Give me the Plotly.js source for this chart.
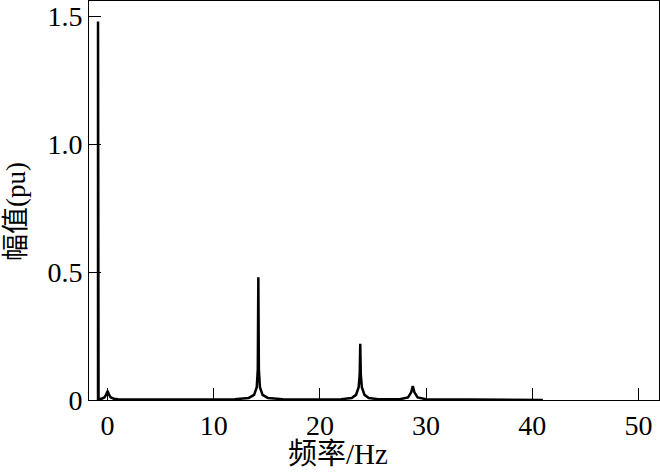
<!DOCTYPE html>
<html>
<head>
<meta charset="utf-8">
<script src="https://cdn.plot.ly/plotly-3.0.1.min.js"></script>
<style>html,body{margin:0;padding:0;background:#fff;}#chart{width:660px;height:472px;}</style>
</head>
<body>
<div id="chart"></div>
<script>
// Spectrum (frequency in Hz, amplitude in pu)
const freq = [-0.9, -0.9, -0.85, -0.6, -0.3, -0.15, 0, 0.15, 0.3, 0.6, 1.0, 2.0, 4.0, 8.0, 12.0, 13.3, 13.8, 14.05, 14.15, 14.2, 14.25, 14.35, 14.6, 15.1, 16.5, 19.0, 22.0, 23.0, 23.4, 23.65, 23.75, 23.8, 23.85, 23.95, 24.2, 24.6, 25.5, 27.5, 28.3, 28.6, 28.75, 28.9, 29.2, 30.0, 35.0, 41.0];
const amp  = [0.0, 1.48, 0.006, 0.004, 0.01, 0.02, 0.035, 0.02, 0.01, 0.005, 0.003, 0.002, 0.002, 0.002, 0.003, 0.008, 0.02, 0.05, 0.12, 0.48, 0.12, 0.05, 0.02, 0.008, 0.003, 0.002, 0.003, 0.008, 0.02, 0.05, 0.1, 0.22, 0.1, 0.05, 0.02, 0.008, 0.003, 0.003, 0.01, 0.03, 0.055, 0.03, 0.01, 0.003, 0.001, 0.0];
const xTickVals = [0, 10, 20, 30, 40, 50];
const xTickText = ["0", "10", "20", "30", "40", "50"];
const yTickVals = [0, 0.5, 1.0, 1.5];
const yTickText = ["0", "0.5", "1.0", "1.5"];
const xTitle = "频率/Hz";
const yTitle = "幅值(pu)";

const fontFam = "'Liberation Serif', 'Times New Roman', 'Noto Sans CJK SC', serif";

const trace = {
  x: freq, y: amp, type: 'scatter', mode: 'lines',
  line: {color: '#000', width: 2.5}, hoverinfo: 'skip'
};

const axisCommon = {
  showgrid: false, zeroline: false, showline: true, mirror: true,
  linecolor: '#000', linewidth: 1, ticks: 'inside', ticklen: 12,
  tickwidth: 1, tickcolor: '#000',
  tickfont: {family: fontFam, size: 28, color: '#000'}
};

const layout = {
  width: 660, height: 472,
  margin: {l: 89, r: 1, t: 1, b: 72},
  paper_bgcolor: '#fff', plot_bgcolor: '#fff',
  showlegend: false,
  xaxis: Object.assign({}, axisCommon, {
    range: [-1.75, 51.94], tickmode: 'array', tickvals: xTickVals, ticktext: xTickText
  }),
  yaxis: Object.assign({}, axisCommon, {
    range: [0, 1.56], tickmode: 'array', tickvals: yTickVals, ticktext: yTickText
  }),
  annotations: [
    {text: xTitle, xref: 'paper', yref: 'paper', x: 0.437, y: -0.135,
     xanchor: 'center', yanchor: 'middle', showarrow: false,
     font: {family: fontFam, size: 29, color: '#000'}},
    {text: yTitle, xref: 'paper', yref: 'paper', x: -0.128, y: 0.471,
     xanchor: 'center', yanchor: 'middle', showarrow: false, textangle: -90,
     font: {family: fontFam, size: 27, color: '#000'}}
  ]
};

Plotly.newPlot('chart', [trace], layout, {displayModeBar: false, staticPlot: true});
</script>
</body>
</html>
